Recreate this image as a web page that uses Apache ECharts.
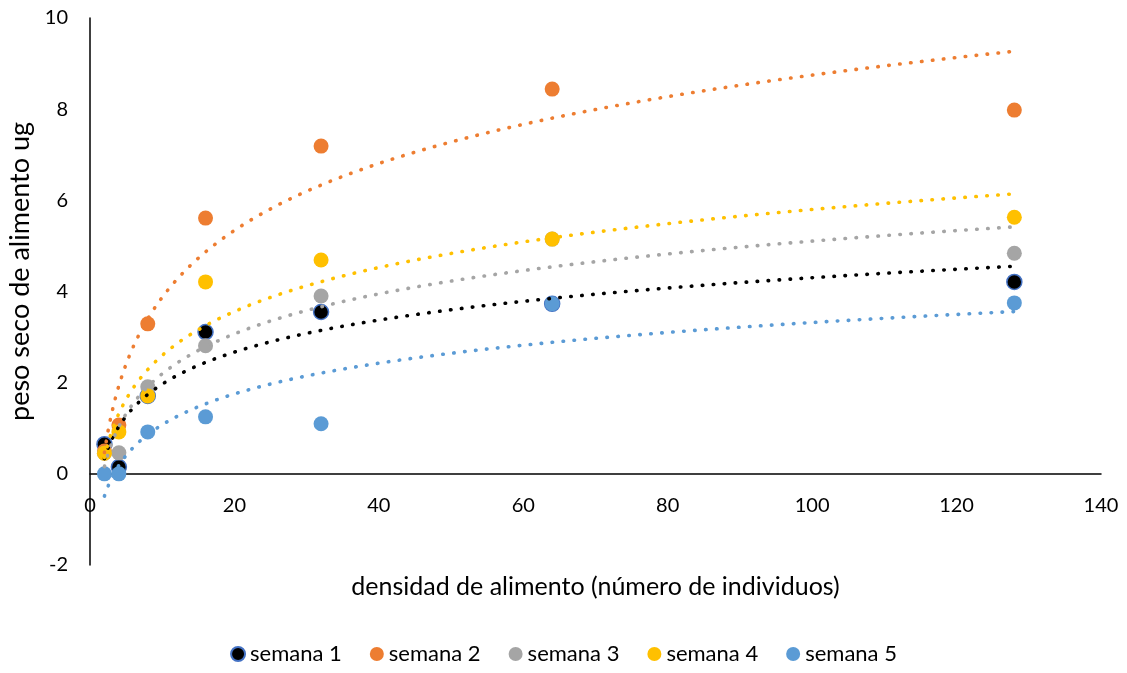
<!DOCTYPE html>
<html>
<head>
<meta charset="utf-8">
<script src="https://cdn.jsdelivr.net/npm/echarts@6/dist/echarts.min.js"></script>
<style>
  html, body { margin: 0; padding: 0; background: #ffffff; }
  #chart { width: 1127px; height: 673px; }
</style>
</head>
<body>
<div id="chart"></div>
<script>
// Food density (number of individuals) and dry weight of food eaten (ug) per week
const densidad = [2, 4, 8, 16, 32, 64, 128];
const semana1 = [0.65, 0.15, 1.71, 3.11, 3.55, 3.73, 4.21];
const semana2 = [0.50, 1.07, 3.29, 5.61, 7.19, 8.44, 7.98];
const semana3 = [0.45, 0.46, 1.91, 2.81, 3.90, 5.15, 4.84];
const semana4 = [0.45, 0.92, 1.71, 4.21, 4.69, 5.15, 5.63];
const semana5 = [0.00, 0.00, 0.92, 1.25, 1.10, 3.73, 3.75];

const seriesNames = ['semana 1', 'semana 2', 'semana 3', 'semana 4', 'semana 5'];
const seriesValues = [semana1, semana2, semana3, semana4, semana5];
const markerColors = ['#000000', '#ED7D31', '#A5A5A5', '#FFC000', '#5B9BD5'];
const trendColors = ['#000000', '#ED7D31', '#A5A5A5', '#FFC000', '#5B9BD5'];

const xAxisMin = 0, xAxisMax = 140, xAxisStep = 20;
const yAxisMin = -2, yAxisMax = 10, yAxisStep = 2;

const FONT = 'Lato, "Open Sans", sans-serif';

const W = 1127, H = 673;
const gridBox = { left: 90, right: 26, top: 18, bottom: 108 };
// the horizontal axis sits on y = 0, so shift it up from the plot's bottom edge
const plotHeight = H - gridBox.top - gridBox.bottom;
const xAxisShift = plotHeight * (0 - yAxisMin) / (yAxisMax - yAxisMin);

// Logarithmic least-squares fit y = a*ln(x) + b
function logFit(xs, ys) {
  const lx = xs.map(Math.log);
  const n = xs.length;
  const mx = lx.reduce((s, v) => s + v, 0) / n;
  const my = ys.reduce((s, v) => s + v, 0) / n;
  let sxy = 0, sxx = 0;
  for (let i = 0; i < n; i++) {
    sxy += (lx[i] - mx) * (ys[i] - my);
    sxx += (lx[i] - mx) * (lx[i] - mx);
  }
  const a = sxy / sxx;
  return { a: a, b: my - a * mx };
}

function trendPoints(xs, ys) {
  const f = logFit(xs, ys);
  const pts = [];
  const x0 = xs[0], x1 = xs[xs.length - 1];
  for (let x = x0; x <= x1 + 1e-9; x += 0.25) {
    pts.push([x, f.a * Math.log(x) + f.b]);
  }
  return pts;
}

const series = [];
seriesNames.forEach((name, i) => {
  series.push({
    name: name,
    type: 'scatter',
    data: densidad.map((x, j) => [x, seriesValues[i][j]]),
    symbol: 'circle',
    symbolSize: 15,
    itemStyle: i === 0
      ? { color: markerColors[i], borderColor: '#4472C4', borderWidth: 1.5, opacity: 1 }
      : { color: markerColors[i], opacity: 1 },
    z: 2,
    emphasis: { disabled: true }
  });
});
seriesNames.forEach((name, i) => {
  series.push({
    name: name + ' tendencia',
    type: 'line',
    data: trendPoints(densidad, seriesValues[i]),
    showSymbol: false,
    symbol: 'none',
    smooth: false,
    lineStyle: { color: trendColors[i], width: 3.6, type: [0.5, 10.5], cap: 'round' },
    z: 3,
    silent: true,
    emphasis: { disabled: true }
  });
});

const chart = echarts.init(document.getElementById('chart'), null, { renderer: 'canvas', width: W, height: H });
chart.setOption({
  animation: false,
  backgroundColor: '#ffffff',
  textStyle: { fontFamily: FONT },
  grid: {
    left: gridBox.left, right: gridBox.right, top: gridBox.top, bottom: gridBox.bottom,
    containLabel: false,
    outerBoundsMode: 'none'
  },
  legend: {
    data: seriesNames.map((n) => ({ name: n, icon: 'circle' })),
    bottom: 3,
    left: 'center',
    itemWidth: 14,
    itemHeight: 14,
    itemGap: 28,
    textStyle: { fontFamily: FONT, fontSize: 22, color: '#000000' }
  },
  xAxis: {
    type: 'value',
    min: xAxisMin,
    max: xAxisMax,
    interval: xAxisStep,
    position: 'bottom',
    offset: -xAxisShift,
    name: 'densidad de alimento (número de individuos)',
    nameLocation: 'middle',
    nameGap: 101,
    nameTextStyle: { fontFamily: FONT, fontSize: 25, color: '#000000' },
    axisLine: { onZero: false, lineStyle: { color: '#000000', width: 1.5 } },
    axisTick: { show: false },
    splitLine: { show: false },
    axisLabel: { margin: 22, fontFamily: FONT, fontSize: 20, color: '#000000' }
  },
  yAxis: {
    type: 'value',
    min: yAxisMin,
    max: yAxisMax,
    interval: yAxisStep,
    name: 'peso seco de alimento ug',
    nameLocation: 'middle',
    nameGap: 55,
    nameTextStyle: { fontFamily: FONT, fontSize: 27, color: '#000000', padding: [0, 0, 0, 40] },
    axisLine: { show: true, onZero: false, lineStyle: { color: '#000000', width: 1.5 } },
    axisTick: { show: false },
    splitLine: { show: false },
    axisLabel: { margin: 22, fontFamily: FONT, fontSize: 20, color: '#000000' }
  },
  series: series
});
</script>
</body>
</html>
